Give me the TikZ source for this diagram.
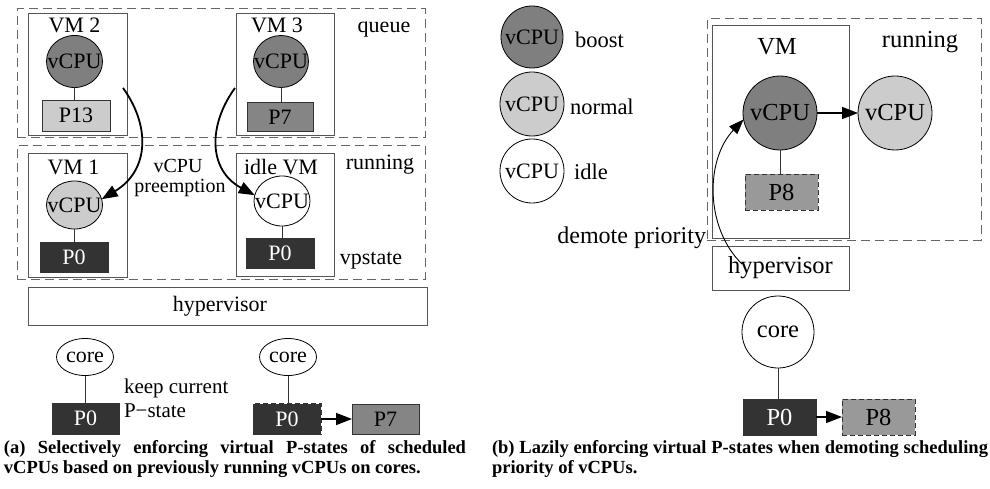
\documentclass[tikz,border=0pt]{standalone}
\usepackage{fontspec}
\setmainfont{Liberation Serif}
\usetikzlibrary{arrows.meta,shapes.geometric}
\definecolor{boostc}{HTML}{7F7F7F}
\definecolor{normc}{HTML}{CCCCCC}
\definecolor{pseven}{HTML}{858585}
\definecolor{peight}{HTML}{999999}
\definecolor{darkc}{HTML}{333333}
\definecolor{grpc}{HTML}{666666}
\definecolor{boxc}{HTML}{555555}
\begin{document}
\begin{tikzpicture}[x=1pt,y=-1pt,
  every node/.style={inner sep=0pt, outer sep=0pt},
  lab/.style={font=\fontsize{22}{26}\selectfont},
  labs/.style={font=\fontsize{20}{24}\selectfont},
  labr/.style={font=\fontsize{24.5}{28}\selectfont},
  labl/.style={font=\fontsize{22.5}{26}\selectfont},
  capt/.style={font=\fontsize{18.5}{22}\selectfont\bfseries, anchor=base west},
  grp/.style={draw=grpc, line width=1pt, dash pattern=on 9pt off 5pt},
  vmbox/.style={draw=boxc, line width=1pt},
  cpu/.style={ellipse, draw=black, line width=0.8pt, label={[lab]center:#1}},
  cpur/.style={circle, draw=black, line width=0.8pt, label={[labr]center:#1}},
  cpul/.style={circle, draw=black, line width=0.8pt, label={[lab]center:#1}},
  pbox/.style={rectangle, draw=black!80, line width=0.8pt},
  pdash/.style={dash pattern=on 5pt off 3pt},
  conn/.style={draw=black!80, line width=0.8pt},
  arr/.style={draw=black, line width=1.8pt, -{Triangle[length=16pt,width=12pt]}},
  arrt/.style={draw=black, line width=0.9pt, -{Triangle[length=15pt,width=11pt]}}
]
\useasboundingbox (0,0) rectangle (990,489);

% ---------------- (a) ----------------
\node[grp, minimum width=408pt, minimum height=129pt] (qbox) at (221,73.5) {};
\node[grp, minimum width=408pt, minimum height=133pt] (rbox) at (221,212.5) {};

% VM 2
\node[vmbox, minimum width=99pt, minimum height=122pt] (vm2) at (77.5,75) {};
\node[lab, anchor=base] (vm2l) at (74.5,33) {VM 2};
\node[cpu=vCPU, fill=boostc, minimum width=56pt, minimum height=52pt] (c2) at (74.5,61.5) {};
\node[pbox, lab, fill=normc, minimum width=68pt, minimum height=31pt] (p13) at (76,115.5) {P13};
\draw[conn] (c2.south) -- (c2.south |- p13.north);

% VM 3
\node[vmbox, minimum width=98pt, minimum height=122pt] (vm3) at (285,75) {};
\node[lab, anchor=base] (vm3l) at (277,33) {VM 3};
\node[cpu=vCPU, fill=boostc, minimum width=55pt, minimum height=52pt] (c3) at (281,61.5) {};
\node[pbox, lab, fill=pseven, minimum width=66pt, minimum height=29pt] (p7a) at (280,117) {P7};
\draw[conn] (c3.south) -- (c3.south |- p7a.north);

% VM 1
\node[vmbox, minimum width=99pt, minimum height=123pt] (vm1) at (77.5,215.5) {};
\node[lab, anchor=base] (vm1l) at (73.5,175) {VM 1};
\node[cpu=vCPU, fill=normc, minimum width=56pt, minimum height=48pt] (c1) at (74.5,205) {};
\node[pbox, lab, fill=darkc, text=white, minimum width=68pt, minimum height=30pt] (p0a) at (74,257) {P0};
\draw[conn] (c1.south) -- (c1.south |- p0a.north);

% idle VM
\node[vmbox, minimum width=98pt, minimum height=123pt] (vmi) at (285,215) {};
\node[lab, anchor=base] (vmil) at (281,175) {idle VM};
\node[cpu=vCPU, fill=white, minimum width=56pt, minimum height=50pt] (ci) at (282,201) {};
\node[pbox, lab, fill=darkc, text=white, minimum width=68pt, minimum height=30pt] (p0b) at (280,253) {P0};
\draw[conn] (ci.south) -- (ci.south |- p0b.north);

% labels
\node[lab, anchor=base] (queuel) at (384,33) {queue};
\node[lab, anchor=base] (runl) at (380,170) {running};
\node[lab, anchor=base] (vpl) at (371,264) {vpstate};
\node[labs, anchor=base] (pre1) at (178,173) {vCPU};
\node[labs, anchor=base] (pre2) at (180,193) {preemption};

% preemption arrows
\coordinate (a1s) at (123,88);
\coordinate (a2s) at (235,88);
\draw[arr] (a1s) .. controls (150,125) and (150,170) .. (c1.12);
\draw[arr] (a2s) .. controls (208,125) and (208,170) .. (ci.168);

% hypervisor
\node[vmbox, minimum width=399pt, minimum height=38pt] (hv1) at (227.5,306) {};
\node[lab] (hv1l) at (220,306) {hypervisor};

% cores
\node[cpu=core, fill=white, minimum width=57pt, minimum height=37pt] (core1) at (85,357) {};
\node[cpu=core, fill=white, minimum width=57pt, minimum height=37pt] (core2) at (288,357) {};
\node[pbox, lab, fill=darkc, text=white, minimum width=67pt, minimum height=31pt] (p0c) at (85.5,418.5) {P0};
\node[pbox, pdash, lab, fill=darkc, text=white, minimum width=68pt, minimum height=31pt] (p0d) at (287,419) {P0};
\node[pbox, lab, fill=pseven, minimum width=67pt, minimum height=30pt] (p7b) at (385.5,419) {P7};
\draw[conn] (core1.south) -- (core1.south |- p0c.north);
\draw[conn] (core2.south) -- (core2.south |- p0d.north);
\draw[arr, line width=1.6pt] (p0d.east) -- (p7b.west);
\node[font=\fontsize{21}{24}\selectfont, anchor=base west] (keep1) at (124,393) {keep current};
\node[font=\fontsize{21}{24}\selectfont, anchor=base west] (keep2) at (124,417) {P−state};

% ---------------- (b) ----------------
% legend
\node[cpul=vCPU, fill=boostc, minimum size=62pt] (lg1) at (532,37) {};
\node[cpul=vCPU, fill=normc, minimum size=64pt] (lg2) at (532,104) {};
\node[cpul=vCPU, fill=white, minimum size=64pt] (lg3) at (532,171) {};
\node[labl, anchor=base west] (lg1l) at (575,48) {boost};
\node[labl, anchor=base west] (lg2l) at (570,115) {normal};
\node[labl, anchor=base west] (lg3l) at (574,180) {idle};

\node[grp, minimum width=274pt, minimum height=221pt] (rbox2) at (844,129.5) {};
\node[vmbox, minimum width=137pt, minimum height=212pt] (vmb) at (780.5,132) {};
\node[labr, anchor=base] (vmbl) at (777,55) {VM};
\node[labr, anchor=base] (runl2) at (920,48) {running};
\node[cpur=vCPU, fill=boostc, minimum size=74pt] (va) at (780,113) {};
\node[cpur=vCPU, fill=normc, minimum size=74pt] (vb) at (895,113) {};
\node[pbox, pdash, labr, fill=peight, minimum width=73pt, minimum height=36pt] (p8a) at (781.5,192) {P8};
\draw[conn] (va.south) -- (va.south |- p8a.north);
\draw[arr, line width=1.6pt] (va.east) -- (vb.west);

\node[vmbox, labr, minimum width=137pt, minimum height=44pt] (hv2) at (780.5,268) {hypervisor};
\node[cpur=core, fill=white, minimum size=72pt] (core3) at (778,332) {};
\node[pbox, labr, fill=darkc, text=white, minimum width=73pt, minimum height=36pt] (p0e) at (779.5,417) {P0};
\node[pbox, pdash, labr, fill=peight, minimum width=73pt, minimum height=36pt] (p8b) at (878.5,417) {P8};
\draw[conn] (core3.south) -- (core3.south |- p0e.north);
\draw[arr, line width=1.6pt] (p0e.east) -- (p8b.west);

\coordinate (ds) at (742,264);
\draw[arrt] (ds) .. controls (705,228) and (705,160) .. (va.190);
\node[font=\fontsize{24}{28}\selectfont, anchor=base east] (demote) at (706,243) {demote priority};

% captions
\node[capt] (capa1) at (4,453) {\makebox[462pt][s]{(a) Selectively enforcing virtual P-states of scheduled}};
\node[capt] (capa2) at (4,473) {vCPUs based on previously running vCPUs on cores.};
\node[capt] (capb1) at (492,453) {\makebox[496pt][s]{(b) Lazily enforcing virtual P-states when demoting scheduling}};
\node[capt] (capb2) at (492,473) {priority of vCPUs.};
\end{tikzpicture}
\end{document}
